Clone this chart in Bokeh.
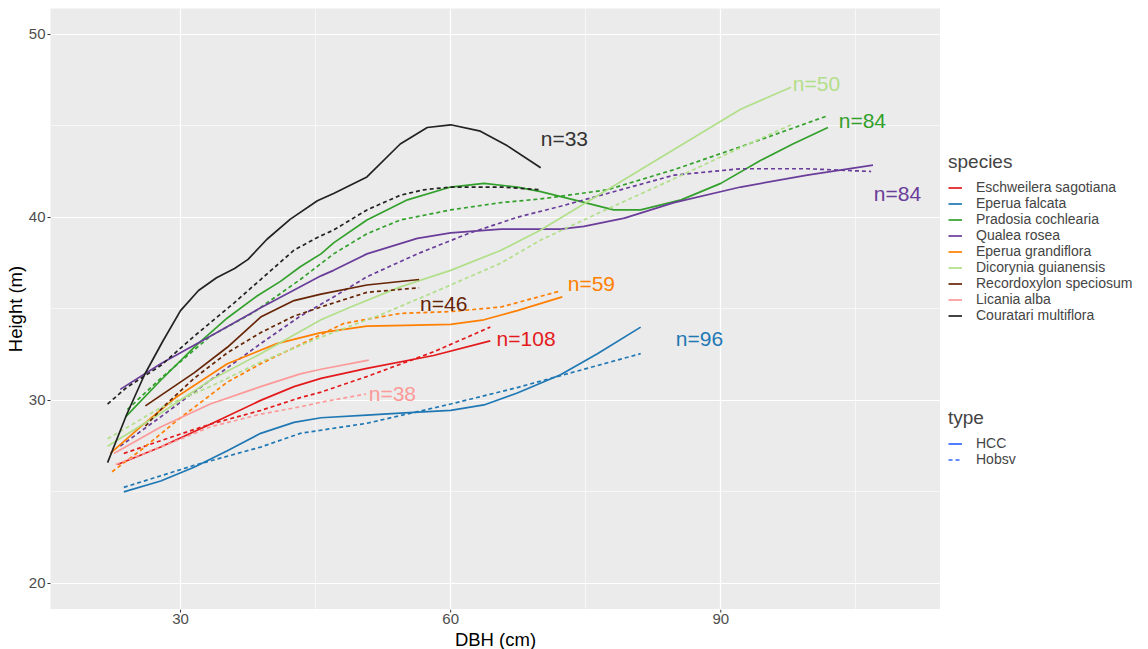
from bokeh.plotting import figure
from bokeh.models import (ColumnDataSource, FixedTicker, Legend, LegendItem, Range1d)
from bokeh.layouts import row, column
from bokeh.core.properties import value
from bokeh.embed import file_html
from bokeh.resources import INLINE

# ---------------- data ----------------
SPECIES = ["Eschweilera sagotiana", "Eperua falcata", "Pradosia cochlearia", "Qualea rosea",
           "Eperua grandiflora", "Dicorynia guianensis", "Recordoxylon speciosum",
           "Licania alba", "Couratari multiflora"]
COLORS = ["#E31A1C", "#1F78B4", "#33A02C", "#6A3D9A", "#FF7F00", "#B2DF8A", "#662506",
          "#FB9A99", "#222222"]
TYPES = ["HCC", "Hobsv"]
TYPE_DASH = ["solid", "4 3"]

# Eschweilera sagotiana
ESCH_HCC_X = [23.0, 27.8, 33.3, 38.9, 42.6, 45.6, 50.7, 58.1, 64.4]
ESCH_HCC_Y = [26.5, 27.45, 28.7, 30.0, 30.75, 31.2, 31.75, 32.45, 33.25]
ESCH_OBS_X = [23.7, 27.8, 33.3, 38.9, 43.3, 45.6, 50.7, 58.1, 64.4]
ESCH_OBS_Y = [27.1, 27.8, 28.7, 29.45, 30.15, 30.45, 31.3, 32.65, 34.0]
# Eperua falcata
EFAL_HCC_X = [23.7, 27.8, 31.5, 35.2, 38.9, 42.6, 45.6, 50.7, 54.4, 60.0, 63.7, 67.4, 72.2, 76.3, 81.1]
EFAL_HCC_Y = [25.0, 25.6, 26.35, 27.25, 28.2, 28.8, 29.05, 29.2, 29.3, 29.45, 29.75, 30.4, 31.4, 32.55, 34.0]
EFAL_OBS_X = [23.7, 31.5, 38.9, 43.3, 50.7, 60.0, 67.4, 72.2, 81.1]
EFAL_OBS_Y = [25.25, 26.45, 27.45, 28.2, 28.75, 29.8, 30.7, 31.35, 32.55]
# Pradosia cochlearia
PRAD_HCC_X = [23.9, 27.8, 31.5, 35.2, 38.5, 41.1, 43.3, 45.6, 47.0, 50.7, 55.2, 60.0, 63.7, 67.4,
              70.0, 73.7, 78.1, 81.1, 85.6, 90.0, 94.4, 98.0, 101.9]
PRAD_HCC_Y = [29.1, 31.1, 32.9, 34.5, 35.7, 36.5, 37.3, 38.0, 38.6, 39.85, 40.95, 41.65, 41.85, 41.65,
              41.4, 40.95, 40.4, 40.4, 40.95, 41.85, 43.1, 44.0, 44.9]
PRAD_OBS_X = [24.1, 27.8, 33.3, 38.1, 43.3, 47.0, 50.7, 54.4, 60.0, 65.6, 70.0, 77.4, 84.8, 92.2, 101.9]
PRAD_OBS_Y = [29.5, 31.2, 33.5, 34.8, 36.6, 38.0, 39.1, 39.85, 40.4, 40.8, 41.0, 41.5, 42.6, 43.85, 45.55]
# Qualea rosea
QUAL_HCC_X = [23.3, 27.8, 33.3, 38.7, 43.3, 45.6, 47.0, 50.7, 56.3, 60.0, 65.6, 72.2, 74.8, 79.3,
              84.8, 92.2, 99.6, 106.9]
QUAL_HCC_Y = [30.6, 32.0, 33.5, 35.0, 36.2, 36.8, 37.1, 38.0, 38.85, 39.15, 39.35, 39.35, 39.5, 39.95,
              40.8, 41.65, 42.3, 42.85]
QUAL_OBS_X = [23.3, 27.8, 33.3, 38.9, 43.3, 47.0, 50.7, 56.3, 61.9, 67.4, 72.2, 77.4, 84.8, 92.2, 99.6, 106.7]
QUAL_OBS_Y = [27.5, 29.1, 31.1, 33.1, 34.6, 35.65, 36.75, 38.0, 39.1, 40.0, 40.6, 41.3, 42.3, 42.65, 42.65, 42.5]
# Eperua grandiflora
EGRA_HCC_X = [22.2, 25.9, 29.6, 35.2, 40.7, 45.6, 50.7, 55.0, 60.0, 63.7, 67.4, 72.4]
EGRA_HCC_Y = [27.1, 28.7, 30.2, 32.0, 33.1, 33.7, 34.05, 34.1, 34.15, 34.4, 34.9, 35.65]
EGRA_OBS_X = [22.4, 25.9, 29.6, 35.2, 38.9, 44.8, 48.1, 54.4, 60.0, 65.6, 72.0]
EGRA_OBS_Y = [26.1, 27.4, 28.9, 31.0, 32.0, 33.4, 34.2, 34.75, 34.85, 35.1, 35.95]
# Dicorynia guianensis
DICO_HCC_X = [21.9, 27.8, 33.3, 38.9, 45.6, 48.9, 54.4, 60.0, 65.6, 70.0, 77.4, 84.8, 92.2, 97.8]
DICO_HCC_Y = [27.5, 29.3, 31.1, 32.55, 34.4, 35.1, 36.2, 37.1, 38.2, 39.3, 41.5, 43.7, 45.9, 47.1]
DICO_OBS_X = [21.9, 27.8, 33.3, 38.9, 44.8, 52.6, 60.0, 65.6, 70.0, 77.4, 84.8, 92.2, 97.8]
DICO_OBS_Y = [27.9, 29.6, 30.75, 32.1, 33.3, 34.75, 36.3, 37.5, 38.76, 40.45, 42.1, 43.8, 45.05]
# Recordoxylon speciosum
RECO_HCC_X = [26.1, 31.5, 35.2, 38.9, 42.6, 45.6, 50.7, 56.5]
RECO_HCC_Y = [29.7, 31.5, 32.9, 34.55, 35.45, 35.8, 36.3, 36.6]
RECO_OBS_X = [26.1, 28.0, 31.5, 35.2, 38.9, 42.6, 45.6, 50.7, 56.5]
RECO_OBS_Y = [28.6, 29.6, 31.2, 32.6, 33.7, 34.6, 35.1, 35.9, 36.15]
# Licania alba
LICA_HCC_X = [22.6, 27.8, 33.3, 38.9, 43.3, 45.6, 50.9]
LICA_HCC_Y = [27.1, 28.55, 29.8, 30.75, 31.45, 31.7, 32.2]
LICA_OBS_X = [22.8, 27.8, 33.3, 38.9, 43.3, 45.6, 50.6]
LICA_OBS_Y = [26.5, 27.45, 28.55, 29.25, 29.65, 29.9, 30.35]
# Couratari multiflora
COUR_HCC_X = [21.9, 24.0, 26.0, 28.0, 30.0, 32.0, 34.0, 36.0, 37.5, 39.6, 42.2, 45.2, 47.0, 50.7,
              54.4, 57.4, 60.0, 63.3, 66.3, 70.0]
COUR_HCC_Y = [26.6, 29.2, 31.4, 33.2, 34.9, 36.0, 36.7, 37.2, 37.7, 38.8, 39.9, 40.9, 41.3, 42.2,
              44.0, 44.9, 45.05, 44.7, 43.9, 42.7]
COUR_OBS_X = [21.9, 24.0, 27.8, 31.5, 35.9, 38.9, 42.6, 45.2, 47.0, 50.7, 54.4, 57.0, 60.0, 65.6, 70.0]
COUR_OBS_Y = [29.8, 30.7, 31.9, 33.5, 35.3, 36.6, 38.2, 38.9, 39.3, 40.4, 41.2, 41.5, 41.65, 41.65, 41.5]

HCC_X = [ESCH_HCC_X, EFAL_HCC_X, PRAD_HCC_X, QUAL_HCC_X, EGRA_HCC_X, DICO_HCC_X, RECO_HCC_X, LICA_HCC_X, COUR_HCC_X]
HCC_Y = [ESCH_HCC_Y, EFAL_HCC_Y, PRAD_HCC_Y, QUAL_HCC_Y, EGRA_HCC_Y, DICO_HCC_Y, RECO_HCC_Y, LICA_HCC_Y, COUR_HCC_Y]
OBS_X = [ESCH_OBS_X, EFAL_OBS_X, PRAD_OBS_X, QUAL_OBS_X, EGRA_OBS_X, DICO_OBS_X, RECO_OBS_X, LICA_OBS_X, COUR_OBS_X]
OBS_Y = [ESCH_OBS_Y, EFAL_OBS_Y, PRAD_OBS_Y, QUAL_OBS_Y, EGRA_OBS_Y, DICO_OBS_Y, RECO_OBS_Y, LICA_OBS_Y, COUR_OBS_Y]

# sample-size labels
LABEL_TEXT = ["n=108", "n=96", "n=84", "n=84", "n=59", "n=50", "n=46", "n=38", "n=33"]
LABEL_X = [65.1, 85.0, 103.1, 107.0, 73.0, 98.0, 56.6, 50.9, 70.0]
LABEL_Y = [33.4, 33.4, 45.3, 41.3, 36.4, 47.3, 35.3, 30.4, 44.3]
LABEL_COLORS = ["#E31A1C", "#1F78B4", "#33A02C", "#6A3D9A", "#FF7F00", "#B2DF8A", "#662506",
                "#FB9A99", "#333333"]

X_TICKS = [30, 60, 90]
X_TICK_LABELS = ["30", "60", "90"]
X_MINOR = [45, 75, 105]
Y_TICKS = [20, 30, 40, 50]
Y_MINOR = [25, 35, 45]
X_TITLE = "DBH (cm)"
Y_TITLE = "Height (m)"

FONT = "Liberation Sans"
LEFT = 50          # width of the left axis strip (px)
TOP = 8            # space above the panel (px)
MAIN_W = 940
MAIN_H = 609       # top space + plotting panel (px)
XAX_H = 40         # height of the x-axis strip (px)
LEG_W = 208

xr = Range1d(15.56, 114.4)
yr = Range1d(18.58, 51.4)

# ---------------- main panel ----------------
p = figure(width=MAIN_W, height=MAIN_H, output_backend="svg", toolbar_location=None,
           x_range=xr, y_range=yr,
           min_border_left=LEFT, min_border_right=0, min_border_top=TOP, min_border_bottom=0)
p.background_fill_color = "#EBEBEB"
p.border_fill_color = "white"
p.outline_line_color = None

xticker = FixedTicker(ticks=X_TICKS, minor_ticks=X_MINOR)
p.xaxis.ticker = xticker
p.xgrid.ticker = xticker
p.xaxis.visible = False
p.yaxis.ticker = FixedTicker(ticks=Y_TICKS, minor_ticks=Y_MINOR)
for g in (p.xgrid, p.ygrid):
    g.grid_line_color = "white"
    g.grid_line_width = 1.2
    g.minor_grid_line_color = "white"
    g.minor_grid_line_width = 0.6
ax = p.yaxis[0]
ax.axis_line_color = None
ax.major_tick_line_color = "#333333"
ax.major_tick_out = 3
ax.major_tick_in = 0
ax.minor_tick_line_color = None
ax.major_label_text_font = FONT
ax.major_label_text_font_size = "15px"
ax.major_label_text_color = "#4D4D4D"
ax.axis_label = Y_TITLE
ax.axis_label_text_font = FONT
ax.axis_label_text_font_size = "18.5px"
ax.axis_label_text_font_style = "normal"
ax.axis_label_text_color = "black"
ax.major_label_standoff = 1
ax.axis_label_standoff = 0

for i, sp in enumerate(SPECIES):
    p.line(HCC_X[i], HCC_Y[i], line_color=COLORS[i], line_width=1.7, line_dash=TYPE_DASH[0])
    p.line(OBS_X[i], OBS_Y[i], line_color=COLORS[i], line_width=1.7, line_dash=TYPE_DASH[1])

src = ColumnDataSource(dict(x=LABEL_X, y=LABEL_Y, t=LABEL_TEXT, c=LABEL_COLORS))
p.text(x="x", y="y", text="t", text_color="c", source=src, text_font=value(FONT),
       text_font_size="21px", text_align="left", text_baseline="middle")

# ---------------- x-axis strip (ticks, tick labels, title) ----------------
xa = figure(width=MAIN_W, height=XAX_H, output_backend="svg", toolbar_location=None,
            x_range=xr, y_range=Range1d(0, XAX_H), x_axis_type=None, y_axis_type=None,
            min_border_left=LEFT, min_border_right=0, min_border_top=0, min_border_bottom=0)
xa.grid.visible = False
xa.outline_line_color = None
xa.background_fill_color = "white"
xa.border_fill_color = "white"
xa.segment(x0=X_TICKS, y0=[XAX_H] * len(X_TICKS), x1=X_TICKS, y1=[XAX_H - 3] * len(X_TICKS),
           line_color="#333333", line_width=1)
xa.text(x=X_TICKS, y=[XAX_H - 4] * len(X_TICKS), text=X_TICK_LABELS, text_font=value(FONT),
        text_font_size="15px", text_color="#4D4D4D", text_align="center", text_baseline="top")
xa.text(x=[(xr.start + xr.end) / 2], y=[10], text=[X_TITLE], text_font=value(FONT),
        text_font_size="18.5px", text_color="black", text_align="center", text_baseline="middle")

# ---------------- legend panel ----------------
lg = figure(width=LEG_W, height=MAIN_H + XAX_H, output_backend="svg", toolbar_location=None,
            x_range=Range1d(0, 1), y_range=Range1d(0, 1), x_axis_type=None, y_axis_type=None,
            min_border=0)
lg.grid.visible = False
lg.outline_line_color = None
lg.background_fill_color = "white"
lg.border_fill_color = "white"

# key renderers kept outside the visible range; only their legend glyphs are seen
OFF = [-5, -4]
species_items = []
for i, sp in enumerate(SPECIES):
    r = lg.line(OFF, OFF, line_color=COLORS[i], line_width=1.7)
    species_items.append(LegendItem(label=sp, renderers=[r]))
type_items = []
for t, d in zip(TYPES, TYPE_DASH):
    r = lg.line(OFF, OFF, line_color="#3366FF", line_width=1.7, line_dash=d)
    type_items.append(LegendItem(label=t, renderers=[r]))

def style(leg, title):
    leg.title = title
    leg.title_text_font = FONT
    leg.title_text_font_size = "19px"
    leg.title_text_font_style = "normal"
    leg.title_standoff = 6
    leg.label_text_font = FONT
    leg.label_text_font_size = "14px"
    leg.label_height = 15
    leg.glyph_height = 15
    leg.glyph_width = 14
    leg.label_standoff = 14
    leg.spacing = 0
    leg.padding = 0
    leg.margin = 0
    leg.border_line_color = None
    leg.background_fill_alpha = 0

leg1 = Legend(items=species_items, location=(8, 326))
style(leg1, "species")
leg2 = Legend(items=type_items, location=(8, 182))
style(leg2, "type")
lg.add_layout(leg1, "center")
lg.add_layout(leg2, "center")

layout = row(column(p, xa, spacing=0), lg, spacing=0)
open("out.html", "w").write(file_html(layout, INLINE))
